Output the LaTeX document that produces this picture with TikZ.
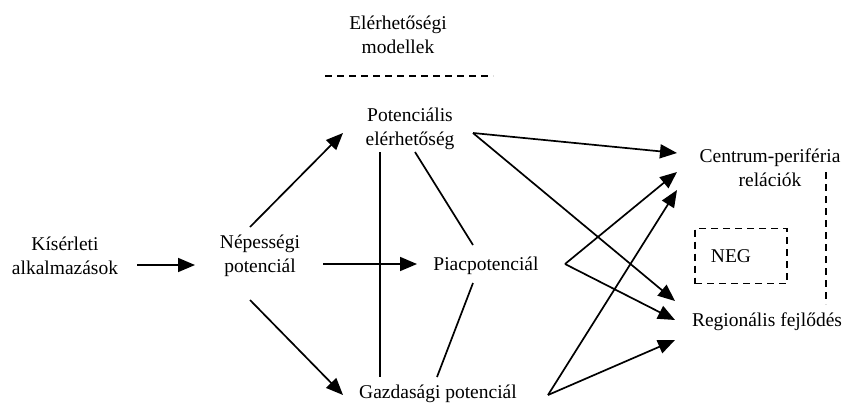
\documentclass[tikz,border=0pt]{standalone}
\usepackage{fontspec}
\setmainfont{Liberation Serif}
\usetikzlibrary{arrows.meta}
\begin{document}
\begin{tikzpicture}[x=1pt,y=-1pt,
  lbl/.style={align=center,font=\fontsize{19.5}{24}\selectfont,inner sep=0pt},
  conn/.style={line width=1.7pt},
  arr/.style={conn,-{Triangle[length=17pt,width=14pt]}},
  dsh/.style={line width=1.5pt,dash pattern=on 7pt off 5pt}]
\useasboundingbox (0,0) rectangle (848,407);
% texts
\node[lbl] (em) at (398,35) {Elérhetőségi\\modellek};
\node[lbl] (pe) at (410,129) {Potenciális\\elérhetőség};
\node[lbl] (ka) at (65,256) {Kísérleti\\alkalmazások};
\node[lbl] (np) at (260,256) {Népességi\\potenciál};
\node[lbl] (pp) at (486,266) {Piacpotenciál};
\node[lbl] (gp) at (438,394) {Gazdasági potenciál};
\node[lbl] (cp) at (770,168) {Centrum-periféria\\relációk};
\node[lbl] (rf) at (767,322) {Regionális fejlődés};
\node[draw,dsh,minimum width=92pt,minimum height=55pt,inner sep=0pt] (negbox) at (741,256) {};
\node[lbl] (neg) at (731,256) {NEG};
% dashed lines
\coordinate (emL) at (325,76); \coordinate (emR) at (493,76);
\draw[dsh] (emL) -- (emR);
\coordinate (vT) at (826,172); \coordinate (vB) at (826,304);
\draw[dsh] (vT) -- (vB);
% connector end points
\coordinate (kaR) at (137,265); \coordinate (npL) at (195,265);
\coordinate (npT) at (250,227); \coordinate (peL) at (343,133);
\coordinate (npR) at (323,264); \coordinate (ppL) at (417,264);
\coordinate (npB) at (250,300); \coordinate (gpL) at (343,395);
\coordinate (peB1) at (380,152); \coordinate (gpT1) at (380,377);
\coordinate (peB2) at (415,152); \coordinate (ppT) at (473,245);
\coordinate (ppB) at (473,283); \coordinate (gpT2) at (437,377);
\coordinate (peR) at (473,133);
\coordinate (ppR) at (565,264);
\coordinate (gpR) at (548,395);
\coordinate (cp1) at (677,153); \coordinate (cp2) at (677,172); \coordinate (cp3) at (677,190);
\coordinate (rf1) at (675,301); \coordinate (rf2) at (675,320); \coordinate (rf3) at (675,340);
% arrows
\draw[arr] (kaR) -- (npL);
\draw[arr] (npT) -- (peL);
\draw[arr] (npR) -- (ppL);
\draw[arr] (npB) -- (gpL);
\draw[conn] (peB1) -- (gpT1);
\draw[conn] (peB2) -- (ppT);
\draw[conn] (ppB) -- (gpT2);
\draw[arr] (peR) -- (cp1);
\draw[arr] (peR) -- (rf1);
\draw[arr] (ppR) -- (cp2);
\draw[arr] (ppR) -- (rf2);
\draw[arr] (gpR) -- (cp3);
\draw[arr] (gpR) -- (rf3);
\end{tikzpicture}
\end{document}
